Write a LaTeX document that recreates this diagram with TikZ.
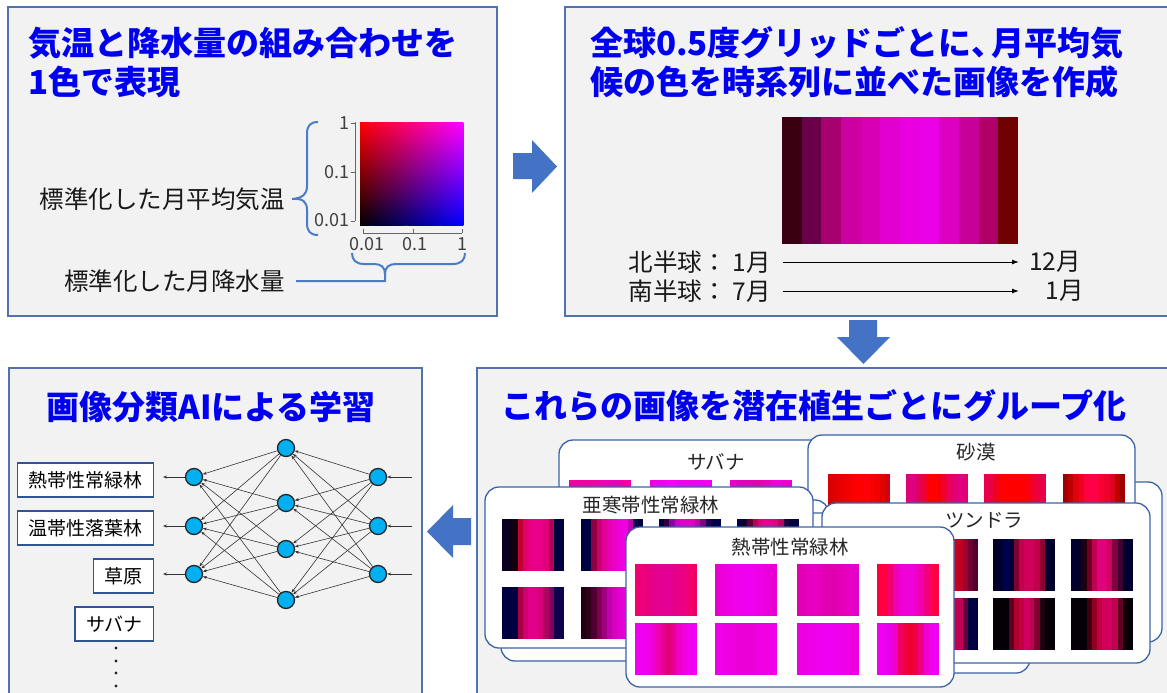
\documentclass[tikz,border=0pt]{standalone}
\usepackage{fontspec}
\setmainfont{Noto Sans CJK JP}
\usetikzlibrary{arrows.meta}
\definecolor{panelfill}{HTML}{F2F2F2}
\definecolor{panelline}{HTML}{5073AD}
\definecolor{titleblue}{HTML}{0000F0}
\definecolor{arrowblue}{HTML}{4472C4}
\definecolor{bracecol}{HTML}{4A7CC8}
\definecolor{cardline}{HTML}{3B62A8}
\definecolor{boxline}{HTML}{2F5597}
\definecolor{neuroncol}{HTML}{00B0F0}
\definecolor{axisgray}{HTML}{404040}

\newcommand\stripes[5]{%
  \foreach \cc [count=\ii from 0] in {#5}{%
    \definecolor{stc}{HTML}{\cc}%
    \fill[stc] ({#1+\ii*#3/12},{#2}) rectangle ({#1+(\ii+1)*#3/12+0.4},{#2+#4});
  }%
}

\tikzset{
 panel/.style={draw=panelline, fill=panelfill, line width=1.5pt},
 blockarrow/.style={fill=arrowblue, draw=none},
 ttl/.style={font=\fontsize{33}{36}\selectfont\bfseries, text=titleblue, inner sep=0pt},
 lab/.style={font=\fontsize{24.5}{28}\selectfont, text=black!90, inner sep=0pt},
 axlab/.style={font=\fontsize{18}{20}\selectfont, text=axisgray, inner sep=0pt},
 axisline/.style={draw=black!60, line width=1pt},
 brace/.style={draw=bracecol, line width=2pt},
 timearrow/.style={draw=black, line width=1pt, -{Latex[length=7pt,width=5pt]}},
 neuron/.style={circle, fill=neuroncol, draw=black!85, line width=1.3pt, minimum size=17pt, inner sep=0pt},
 nnedge/.style={draw=black!80, line width=0.6pt, -{Stealth[length=4pt,width=3pt]}},
 lbox/.style={draw=boxline, line width=1.4pt, fill=white, font=\fontsize{19}{22}\selectfont, minimum height=34pt, inner xsep=11pt, inner ysep=0pt},
 card/.style={draw=cardline, fill=white, rounded corners=14pt, line width=1.3pt},
 cardtitle/.style={font=\fontsize{19.5}{22}\selectfont, text=black!85, inner sep=0pt},
}

\begin{document}
\begin{tikzpicture}[x=1pt,y=-1pt]
\useasboundingbox (0,0) rectangle (1167,693);
\fill[white] (0,0) rectangle (1167,693);

% ---------------- panels
\draw[panel] (8,7) rectangle (497,316);
\draw[panel] (565,7) rectangle (1180,316);
\draw[panel] (9,368) rectangle (422,710);
\draw[panel] (477,368) rectangle (1180,710);

% ---------------- block arrows
\fill[blockarrow] (513,153) -- (532,153) -- (532,140) -- (557,166.5) -- (532,193) -- (532,179) -- (513,179) -- cycle;
\fill[blockarrow] (849,320) -- (877,320) -- (877,337) -- (890,337) -- (863.5,364) -- (837,337) -- (849,337) -- cycle;
\fill[blockarrow] (471,518) -- (453,518) -- (453,505) -- (427,531.5) -- (453,558) -- (453,545) -- (471,545) -- cycle;

% ---------------- top-left panel
\node[ttl, anchor=west] (tl1) at (28,43) {気温と降水量の組み合わせを};
\node[ttl, anchor=west] (tl2) at (28,82) {1色で表現};

\foreach \c in {0,...,49}{
  \pgfmathsetmacro\bb{\c/49}
  \definecolor{sqt}{rgb}{1,0,\bb}
  \definecolor{sqb}{rgb}{0,0,\bb}
  \shade[top color=sqt,bottom color=sqb] ({360+\c*2.06},122) rectangle ({360+(\c+1)*2.06+0.35},225);
}
\draw[axisline] (355,122) -- (355,221);
\draw[axisline] (351,123) -- (355,123);
\draw[axisline] (351,172) -- (355,172);
\draw[axisline] (351,221) -- (355,221);
\draw[axisline] (363,233) -- (462,233);
\draw[axisline] (363,229) -- (363,233);
\draw[axisline] (413,229) -- (413,233);
\draw[axisline] (462,229) -- (462,233);
\node[axlab, anchor=east] (y1) at (350,123) {1};
\node[axlab, anchor=east] (y2) at (350,172) {0.1};
\node[axlab, anchor=east] (y3) at (350,220) {0.01};
\node[axlab] (x1) at (367,244) {0.01};
\node[axlab] (x2) at (415,244) {0.1};
\node[axlab] (x3) at (462,244) {1};

\node[lab, anchor=east] (tlab) at (285,199) {標準化した月平均気温};
\node[lab, anchor=east] (plab) at (285,281) {標準化した月降水量};

\draw[brace] (318,122) .. controls (310,122) and (307,126) .. (307,134) -- (307,186)
  .. controls (307,194) and (303,198) .. ([xshift=7pt]tlab.east)
  ([xshift=7pt]tlab.east) .. controls (303,198) and (307,202) .. (307,210) -- (307,223)
  .. controls (307,231) and (310,235) .. (318,235);
\draw[brace] (352,253) .. controls (352,260) and (356,264) .. (364,264) -- (374,264)
  .. controls (381,264) and (385,267) .. (385,274) -- (385,281) -- ([xshift=11pt]plab.east);
\draw[brace] (465,253) .. controls (465,260) and (461,264) .. (453,264) -- (396,264)
  .. controls (389,264) and (385,267) .. (385,274);

% ---------------- top-right panel
\node[ttl, anchor=west] (tr1) at (590,43) {全球0.5度グリッドごとに、\hspace{-13pt}月平均気};
\node[ttl, anchor=west] (tr2) at (590,82) {候の色を時系列に並べた画像を作成};
\stripes{782}{117}{236}{127}{3A0012,6A004A,A8006E,CC00A0,D800B4,E200D0,E800DE,EA00E6,DC00C2,C8009A,B00068,6E0000}
\node[lab, anchor=east] (nh) at (771,262) {北半球：\hspace{6pt}1月};
\node[lab, anchor=east] (sh) at (771,291) {南半球：\hspace{6pt}7月};
\node[lab, anchor=west] (ne) at (1029,262) {12月};
\node[lab, anchor=east] (se) at (1084,291) {1月};
\coordinate (se0) at (1019,291);
\draw[timearrow] ([xshift=12pt]nh.east) -- ([xshift=-10pt]ne.west);
\draw[timearrow] ([xshift=12pt]sh.east) -- (se0);

% ---------------- bottom-left panel
\node[ttl] (bl) at (211,407) {画像分類AIによる学習};
\foreach \n/\y in {1/477,2/526,3/574}{
  \node[neuron] (in\n) at (378,\y) {};
  \node[neuron] (out\n) at (194,\y) {};
  \coordinate (ina\n) at (412,\y);
  \coordinate (outa\n) at (163,\y);
}
\foreach \n/\y in {1/448,2/503,3/549,4/600}{
  \node[neuron] (h\n) at (286,\y) {};
}
\foreach \i in {1,2,3}{
  \foreach \j in {1,2,3,4}{
    \draw[nnedge] (in\i) -- (h\j);
    \draw[nnedge] (h\j) -- (out\i);
  }
  \draw[nnedge] (ina\i) -- (in\i);
  \draw[nnedge] (out\i) -- (outa\i);
}
\node[lbox, anchor=east] (c1) at (154,480) {熱帯性常緑林};
\node[lbox, anchor=east] (c2) at (154,528) {温帯性落葉林};
\node[lbox, anchor=east] (c3) at (154,576) {草原};
\node[lbox, anchor=east] (c4) at (154,624) {サバナ};
\foreach \y in {648,661,673,686}{ \fill[black!85] (116,\y) circle (1.7); }

% ---------------- bottom-right panel
\node[ttl] (br) at (814,406) {これらの画像を潜在植生ごとにグループ化};

% back card right
\draw[card] (834,482) rectangle (1162,642);
% savanna
\draw[card] (559,440) rectangle (887,600);
\node[cardtitle] (tA) at (716,462) {サバナ};
\stripes{569}{480}{62}{52}{EC00A0,F000A0,F000A0,F0009C,F000A0,F000A8,F000B0,EC00B0,E800B8,E800B0,F000A0,F000A0}
\stripes{650}{480}{62}{52}{F000E0,F000E8,F000F0,F800F8,F800F8,F000F0,F000F0,F000E8,F000E8,F000F0,F000F0,F000E8}
\stripes{730}{480}{62}{52}{E800C8,E400C0,E000B8,E000B8,E000B0,E000A8,E800B0,E800C0,F000D0,F000D8,E800D0,E800C8}
% desert
\draw[card] (808,435) rectangle (1135,595);
\node[cardtitle] (tB) at (976,452) {砂漠};
\stripes{828}{474}{62}{52}{D80000,E00000,E80000,F00000,F80000,FF0000,FF0000,FF0008,F80000,F00000,E00000,D00010}
\stripes{906}{474}{62}{52}{E0007A,E00080,E00060,F00030,FF0000,FF0000,F80000,F00030,E80060,E00078,E00080,E00070}
\stripes{984}{474}{62}{52}{E8004A,E80040,F00020,FF0000,FF0000,FF0000,FF0000,FF0000,F80010,F00030,E80040,E80048}
\stripes{1063}{474}{62}{52}{A00000,C00000,E00010,F00020,FF0040,FF0048,FF0040,F80030,F00030,E00020,C00000,A00000}
% back cards
\draw[card] (501,500) rectangle (829,661);
\draw[card] (702,513) rectangle (1030,673);
% subarctic
\draw[card] (485,487) rectangle (813,648);
\node[cardtitle] (tE) at (651,505) {亜寒帯性常緑林};
\stripes{502}{519}{62}{52}{0A0020,0A0018,100010,C00030,E0006A,E80080,E8008C,E80088,E00078,B00058,000040,000040}
\stripes{581}{519}{62}{52}{000040,000040,900040,C80070,E00098,E800B0,EC00C8,F000D8,F000E0,C000B0,100050,000040}
\stripes{659}{519}{62}{52}{000040,300040,9000A0,D000C0,E000C8,E000C8,E000C0,C000A8,800080,200050,000040,000050}
\stripes{737}{519}{62}{52}{000040,100030,600030,C0004A,E0007A,E80090,E8008C,E00080,C00060,200040,000040,000040}
\stripes{502}{587}{62}{52}{000040,000040,000040,A80040,D00070,E0008A,E0008A,D8007A,B00060,800060,100050,100050}
\stripes{581}{587}{62}{52}{200010,300018,500030,800050,A00080,C000A8,D800C0,E000D0,E800D8,E800D8,E000D0,E000C8}
\stripes{659}{587}{62}{52}{000040,100030,A0006A,E00098,E800B0,E800B8,E800B0,E00098,B00070,400040,000040,000040}
\stripes{737}{587}{62}{52}{000040,200030,800040,C80060,E00080,E8008C,E8008C,E00080,C80060,600040,000040,000040}
% tundra
\draw[card] (822,503) rectangle (1150,663);
\node[cardtitle] (tF) at (984,520) {ツンドラ};
\stripes{838}{539}{62}{52}{000030,000030,300020,800020,B00020,D00020,D00020,C00030,900030,400030,000030,000030}
\stripes{916}{539}{62}{52}{000030,000040,400030,900030,C00020,D00010,D00020,D00020,C00020,A00030,700030,500030}
\stripes{993}{539}{62}{52}{000028,000030,000050,000030,800030,C0004A,D0005A,D0005A,C0004A,900030,000030,000028}
\stripes{1071}{539}{62}{52}{000030,000028,200010,700020,C00050,E00080,E00078,D00060,800040,400030,000030,000030}
\stripes{838}{598}{62}{52}{000030,000030,500030,A00040,C00050,D00050,D00050,C00050,A00050,600040,000040,000040}
\stripes{916}{598}{62}{52}{000030,000030,400030,900040,B00050,C00050,C00050,C00050,C00050,600040,000040,000040}
\stripes{993}{598}{62}{52}{050008,050008,050008,600020,B00030,C00040,D00060,C00050,800030,200010,050008,050008}
\stripes{1071}{598}{62}{52}{050008,050008,050008,400010,900020,C00040,D00058,D00060,C00050,600020,100008,050008}
% tropical
\draw[card] (626,527) rectangle (954,687);
\node[cardtitle] (tH) at (790,547) {熱帯性常緑林};
\stripes{635}{564}{62}{52}{F00070,F0007A,E80080,E4008C,E40090,E40090,E40094,E4008C,E80088,EC0080,F00070,F00060}
\stripes{715}{564}{62}{52}{E800D0,EC00D8,F000E0,F000E8,F000EC,F000F0,F000F0,F000EC,F000E8,EC00E0,E800D8,E800D0}
\stripes{797}{564}{62}{52}{E000B0,E400B8,E800C0,E800C0,E400B8,E000B0,E000B0,E000B0,E400B8,E800C0,E800C8,E000C8}
\stripes{877}{564}{62}{52}{FF0040,FF0040,F00070,F000B0,F000D0,F000D8,F000D8,F000D0,F000B0,F00080,FF0050,FF0040}
\stripes{635}{623}{62}{52}{F000F0,F000F0,F000E8,F000D0,F000B0,E80090,E0007A,E80090,F000C0,F000E0,F000F0,F000F0}
\stripes{715}{623}{62}{52}{F000E8,F000E8,F000E0,F000E0,EC00D8,EC00D8,EC00D8,EC00D8,F000E0,F000E0,F000E8,F000E8}
\stripes{797}{623}{62}{52}{EC00E0,EC00E0,F000E8,F000E8,F000F0,F000F0,F000F0,F000F0,F000E8,F000E8,EC00E0,EC00E0}
\stripes{877}{623}{62}{52}{F000F0,F000F0,E800E8,F000C0,F00060,F00040,F00030,F00040,F00080,F000D0,F000F0,F000F0}
\end{tikzpicture}
\end{document}
